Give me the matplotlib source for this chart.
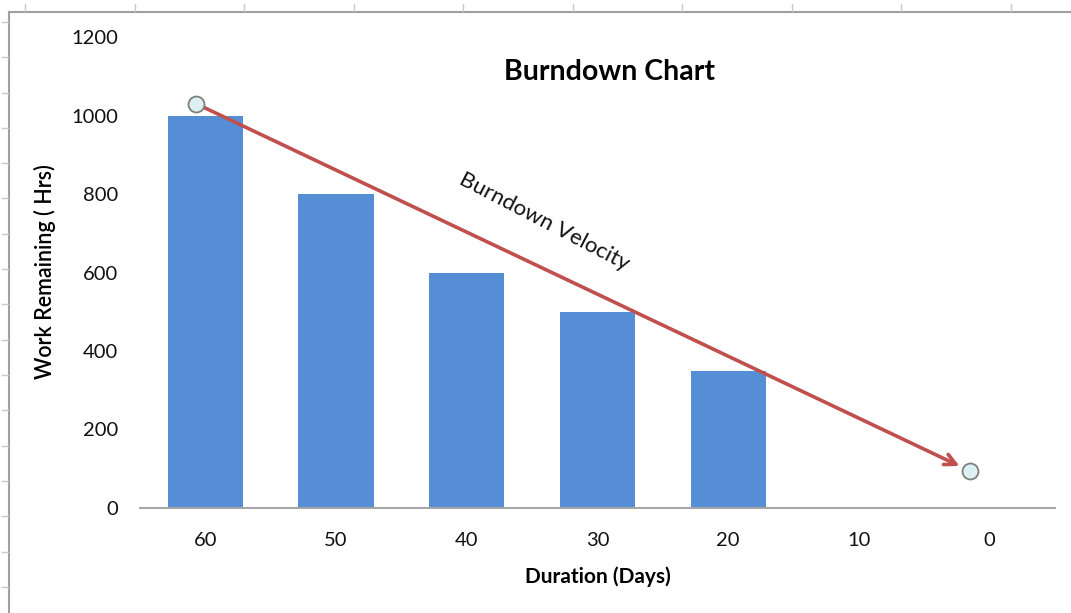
import matplotlib
matplotlib.use('Agg')
import matplotlib.pyplot as plt
from matplotlib.lines import Line2D
import numpy as np

plt.rcParams['font.family'] = ['Lato', 'DejaVu Sans']

# data
days = ['60', '50', '40', '30', '20', '10', '0']
work_left = [1000, 800, 600, 500, 350, 0, 0]
# burndown velocity line end points (category index, hours)
velocity_x = [-0.07, 5.85]
velocity_y = [1030, 95]

BAR_COLOR = '#558ED5'
LINE_COLOR = '#C0504D'

fig = plt.figure(figsize=(10.71, 6.13), dpi=100)
ax = fig.add_axes([0.1307, 0.1713, 0.8543, 0.7683])

x = np.arange(len(days))
ax.bar(x, work_left, width=0.575, color=BAR_COLOR, zorder=2)

# velocity arrow
ax.annotate('', xy=(velocity_x[1] - 0.08, velocity_y[1] + 12), xytext=(velocity_x[0], velocity_y[0]),
            arrowprops=dict(arrowstyle='->', color=LINE_COLOR, lw=2.6,
                            mutation_scale=20, shrinkA=0, shrinkB=0), zorder=3)
ax.plot(velocity_x, velocity_y, ls='none', marker='o', markersize=11.5,
        markerfacecolor='#DCEFF2', markeredgecolor='#7F7F7F', markeredgewidth=1.3, zorder=4)
ax.text(2.59, 729, 'Burndown Velocity', rotation=-27.5, rotation_mode='anchor',
        ha='center', va='center', fontsize=16, color='#111111')

ax.set_xlim(-0.5, 6.5)
ax.set_ylim(0, 1200)
ax.set_xticks(x)
ax.set_xticklabels(days)
ax.set_yticks(np.arange(0, 1201, 200))
ax.tick_params(length=0, labelsize=14.5, colors='#111111')
ax.tick_params(axis='x', pad=17)
ax.tick_params(axis='y', pad=16)
for side in ['top', 'right', 'left']:
    ax.spines[side].set_visible(False)
ax.spines['bottom'].set_color('#A6A6A6')
ax.spines['bottom'].set_linewidth(1.5)

fig.text(610 / 1071, 1 - 72 / 613, 'Burndown Chart', fontsize=20.5, fontweight='bold',
         ha='center', va='center')
ax.set_xlabel('Duration (Days)', fontsize=15, fontweight='bold', labelpad=13)
fig.text(45 / 1071, 1 - 272 / 613, 'Work Remaining ( Hrs)', rotation=90,
         ha='center', va='center', fontsize=15.5, fontweight='semibold')

# excel sheet frame around the chart
fig.add_artist(Line2D([9 / 1071, 9 / 1071], [0, 1 - 12 / 613], color='#A0A0A0', lw=1.5))
fig.add_artist(Line2D([9 / 1071, 1], [1 - 12 / 613, 1 - 12 / 613], color='#A0A0A0', lw=1.5))
for px in np.arange(25, 1071, 109.5):
    fig.add_artist(Line2D([px / 1071, px / 1071], [1 - 4 / 613, 1 - 11 / 613], color='#C8C8C8', lw=1))
for py in np.arange(22, 613, 35.3):
    fig.add_artist(Line2D([2 / 1071, 8 / 1071], [1 - py / 613, 1 - py / 613], color='#C8C8C8', lw=1))

fig.savefig('out.png', dpi=100)
